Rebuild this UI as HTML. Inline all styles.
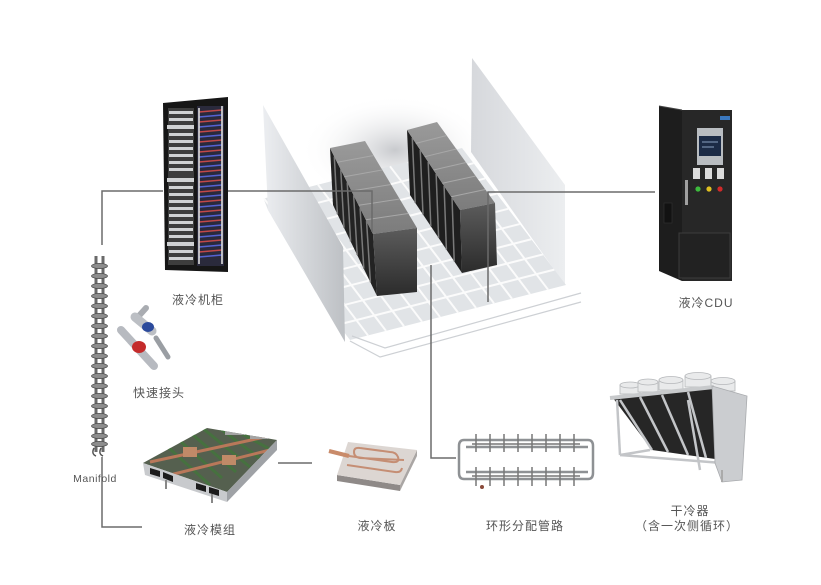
<!DOCTYPE html>
<html><head><meta charset="utf-8"><style>
html,body{margin:0;padding:0;background:#fff;}
body{width:821px;height:585px;overflow:hidden;}
svg{display:block;}
text{font-family:"Liberation Sans","Noto Sans CJK SC",sans-serif;fill:#555;}
</style></head><body>
<svg width="821" height="585" viewBox="0 0 821 585" xmlns="http://www.w3.org/2000/svg">
<defs>
<linearGradient id="lw" x1="0" y1="0" x2="1" y2="0"><stop offset="0" stop-color="#eceef1"/><stop offset="1" stop-color="#bdc0c4"/></linearGradient>
<linearGradient id="rw" x1="0" y1="0" x2="1" y2="0"><stop offset="0" stop-color="#d6d8dc"/><stop offset="1" stop-color="#eceef0"/></linearGradient>
<radialGradient id="sh" cx="0.5" cy="0.5" r="0.5"><stop offset="0" stop-color="#c2c4c8" stop-opacity="0.9"/><stop offset="1" stop-color="#ffffff" stop-opacity="0"/></radialGradient>
<linearGradient id="endf" x1="0" y1="0" x2="0" y2="1"><stop offset="0" stop-color="#5c5c5c"/><stop offset="1" stop-color="#2b2b2b"/></linearGradient>
<linearGradient id="topf" x1="0" y1="0" x2="0" y2="1"><stop offset="0" stop-color="#9a9a9a"/><stop offset="1" stop-color="#7c7c7c"/></linearGradient>
<clipPath id="modtop"><polygon points="143,463 207,428 277,440 227,492"/></clipPath>
</defs>

<ellipse cx="395" cy="150" rx="95" ry="55" fill="url(#sh)"/>

<polygon points="472,58 565,185 565,285 471,152" fill="url(#rw)"/>

<g transform="matrix(216,-55,104,137,246,203)">
<polygon points="0,0 1,0 1,1 0,1" fill="#e1e4e7"/>
<g stroke="#fbfbfb" stroke-width="2">
<line x1="0.0833" y1="0" x2="0.0833" y2="1" vector-effect="non-scaling-stroke"/>
<line x1="0.1667" y1="0" x2="0.1667" y2="1" vector-effect="non-scaling-stroke"/>
<line x1="0.25" y1="0" x2="0.25" y2="1" vector-effect="non-scaling-stroke"/>
<line x1="0.3333" y1="0" x2="0.3333" y2="1" vector-effect="non-scaling-stroke"/>
<line x1="0.4167" y1="0" x2="0.4167" y2="1" vector-effect="non-scaling-stroke"/>
<line x1="0.5" y1="0" x2="0.5" y2="1" vector-effect="non-scaling-stroke"/>
<line x1="0.5833" y1="0" x2="0.5833" y2="1" vector-effect="non-scaling-stroke"/>
<line x1="0.6667" y1="0" x2="0.6667" y2="1" vector-effect="non-scaling-stroke"/>
<line x1="0.75" y1="0" x2="0.75" y2="1" vector-effect="non-scaling-stroke"/>
<line x1="0.8333" y1="0" x2="0.8333" y2="1" vector-effect="non-scaling-stroke"/>
<line x1="0.9167" y1="0" x2="0.9167" y2="1" vector-effect="non-scaling-stroke"/>
<line x1="0" y1="0.111" x2="1" y2="0.111" vector-effect="non-scaling-stroke"/>
<line x1="0" y1="0.222" x2="1" y2="0.222" vector-effect="non-scaling-stroke"/>
<line x1="0" y1="0.333" x2="1" y2="0.333" vector-effect="non-scaling-stroke"/>
<line x1="0" y1="0.444" x2="1" y2="0.444" vector-effect="non-scaling-stroke"/>
<line x1="0" y1="0.555" x2="1" y2="0.555" vector-effect="non-scaling-stroke"/>
<line x1="0" y1="0.666" x2="1" y2="0.666" vector-effect="non-scaling-stroke"/>
<line x1="0" y1="0.777" x2="1" y2="0.777" vector-effect="non-scaling-stroke"/>
<line x1="0" y1="0.888" x2="1" y2="0.888" vector-effect="non-scaling-stroke"/>
</g>
</g>
<polygon points="225,100 268,210 350,350 225,350" fill="#fff"/>
<g stroke="#cdd0d4" stroke-width="1.2" fill="none">
<polyline points="350,341 380,357 581,302"/>
<polyline points="352,336 385,348 581,293"/>
</g>

<polygon points="263,105 343,247 345,342 268,210" fill="url(#lw)"/>

<polygon points="330,148 373,234 377,296 333,205" fill="#232323"/>
<g stroke="#7a7a7a" stroke-width="1.5">
<line x1="334.3" y1="156.6" x2="337.4" y2="214.1"/>
<line x1="340.75" y1="169.5" x2="344" y2="227.75"/>
<line x1="347.2" y1="182.4" x2="350.6" y2="241.4"/>
<line x1="353.65" y1="195.3" x2="357.2" y2="255"/>
<line x1="360.1" y1="208.2" x2="363.8" y2="268.7"/>
<line x1="366.55" y1="221.1" x2="370.4" y2="282.35"/>
</g>
<polygon points="330,148 365,141 417,228 373,234" fill="url(#topf)"/>
<g stroke="#a8a8a8" stroke-width="1">
<line x1="337.2" y1="162.3" x2="373.7" y2="155.5"/>
<line x1="344.3" y1="176.7" x2="382.3" y2="170"/>
<line x1="351.5" y1="191" x2="391" y2="184.5"/>
<line x1="358.7" y1="205.3" x2="399.7" y2="199"/>
<line x1="365.8" y1="219.7" x2="408.3" y2="213.5"/>
</g>
<polygon points="373,234 417,228 417,292 377,296" fill="url(#endf)"/>

<polygon points="407,130 460,210 462,273 410,195" fill="#1f1f1f"/>
<g stroke="#7a7a7a" stroke-width="1.5">
<line x1="412.3" y1="138" x2="415.2" y2="202.8"/>
<line x1="420.25" y1="150" x2="423" y2="214.5"/>
<line x1="428.2" y1="162" x2="430.8" y2="226.2"/>
<line x1="436.15" y1="174" x2="438.6" y2="237.9"/>
<line x1="444.1" y1="186" x2="446.4" y2="249.6"/>
<line x1="452.05" y1="198" x2="454.2" y2="261.3"/>
</g>
<polygon points="407,130 437,122 495,203 460,210" fill="url(#topf)"/>
<g stroke="#a8a8a8" stroke-width="1">
<line x1="415.8" y1="143.4" x2="446.7" y2="135.5"/>
<line x1="424.7" y1="156.7" x2="456.3" y2="149"/>
<line x1="433.5" y1="170" x2="466" y2="162.5"/>
<line x1="442.3" y1="183.3" x2="475.7" y2="176"/>
<line x1="451.2" y1="196.7" x2="485.3" y2="189.5"/>
</g>
<polygon points="460,210 495,203 497,265 462,273" fill="url(#endf)"/>

<polygon points="163,103 228,97 228,272 165,270" fill="#161616"/>
<rect x="168" y="108" width="26" height="157" fill="#3d3d3d"/>
<g fill="#cfd1d3">
<rect x="169" y="111" width="24" height="3"/><rect x="169" y="118" width="24" height="3"/><rect x="167" y="125" width="27" height="4"/>
<rect x="169" y="133" width="24" height="3"/><rect x="169" y="140" width="24" height="3"/><rect x="169" y="147" width="24" height="3"/>
<rect x="169" y="154" width="24" height="3"/><rect x="169" y="161" width="24" height="3"/><rect x="169" y="168" width="24" height="3"/>
<rect x="167" y="178" width="27" height="4"/><rect x="169" y="186" width="24" height="3"/><rect x="169" y="193" width="24" height="3"/>
<rect x="169" y="200" width="24" height="3"/><rect x="169" y="207" width="24" height="3"/><rect x="169" y="214" width="24" height="3"/>
<rect x="169" y="221" width="24" height="3"/><rect x="169" y="228" width="24" height="3"/><rect x="169" y="235" width="24" height="3"/>
<rect x="167" y="242" width="27" height="4"/><rect x="169" y="250" width="24" height="3"/><rect x="169" y="257" width="24" height="3"/>
</g>
<rect x="197" y="106" width="27" height="160" fill="#2a2a3c"/>
<g stroke-width="1.6">
<line x1="199" y1="112" x2="222" y2="110" stroke="#c24848"/><line x1="199" y1="117" x2="222" y2="115" stroke="#5563d2"/>
<line x1="199" y1="122" x2="222" y2="120" stroke="#c24848"/><line x1="199" y1="127" x2="222" y2="125" stroke="#5563d2"/>
<line x1="199" y1="132" x2="222" y2="130" stroke="#c24848"/><line x1="199" y1="137" x2="222" y2="135" stroke="#5563d2"/>
<line x1="199" y1="142" x2="222" y2="140" stroke="#c24848"/><line x1="199" y1="147" x2="222" y2="145" stroke="#5563d2"/>
<line x1="199" y1="152" x2="222" y2="150" stroke="#c24848"/><line x1="199" y1="157" x2="222" y2="155" stroke="#5563d2"/>
<line x1="199" y1="162" x2="222" y2="160" stroke="#c24848"/><line x1="199" y1="167" x2="222" y2="165" stroke="#5563d2"/>
<line x1="199" y1="172" x2="222" y2="170" stroke="#c24848"/><line x1="199" y1="177" x2="222" y2="175" stroke="#5563d2"/>
<line x1="199" y1="182" x2="222" y2="180" stroke="#c24848"/><line x1="199" y1="187" x2="222" y2="185" stroke="#5563d2"/>
<line x1="199" y1="192" x2="222" y2="190" stroke="#c24848"/><line x1="199" y1="197" x2="222" y2="195" stroke="#5563d2"/>
<line x1="199" y1="202" x2="222" y2="200" stroke="#c24848"/><line x1="199" y1="207" x2="222" y2="205" stroke="#5563d2"/>
<line x1="199" y1="212" x2="222" y2="210" stroke="#c24848"/><line x1="199" y1="217" x2="222" y2="215" stroke="#5563d2"/>
<line x1="199" y1="222" x2="222" y2="220" stroke="#c24848"/><line x1="199" y1="227" x2="222" y2="225" stroke="#5563d2"/>
<line x1="199" y1="232" x2="222" y2="230" stroke="#c24848"/><line x1="199" y1="237" x2="222" y2="235" stroke="#5563d2"/>
<line x1="199" y1="242" x2="222" y2="240" stroke="#c24848"/><line x1="199" y1="247" x2="222" y2="245" stroke="#5563d2"/>
<line x1="199" y1="252" x2="222" y2="250" stroke="#c24848"/><line x1="199" y1="257" x2="222" y2="255" stroke="#5563d2"/>
</g>
<line x1="199" y1="108" x2="199" y2="264" stroke="#e0e0e0" stroke-width="1.6"/>
<line x1="222" y1="106" x2="222" y2="264" stroke="#e0e0e0" stroke-width="1.6"/>

<line x1="96" y1="256" x2="96" y2="452" stroke="#6a6a6a" stroke-width="3"/>
<line x1="103" y1="256" x2="103" y2="452" stroke="#6a6a6a" stroke-width="3"/>
<g fill="#8d8d8d" stroke="#4a4a4a" stroke-width="0.7">
<ellipse cx="99.5" cy="266" rx="8" ry="2.6"/><ellipse cx="99.5" cy="276" rx="8" ry="2.6"/><ellipse cx="99.5" cy="286" rx="8" ry="2.6"/>
<ellipse cx="99.5" cy="296" rx="8" ry="2.6"/><ellipse cx="99.5" cy="306" rx="8" ry="2.6"/><ellipse cx="99.5" cy="316" rx="8" ry="2.6"/>
<ellipse cx="99.5" cy="326" rx="8" ry="2.6"/><ellipse cx="99.5" cy="336" rx="8" ry="2.6"/><ellipse cx="99.5" cy="346" rx="8" ry="2.6"/>
<ellipse cx="99.5" cy="356" rx="8" ry="2.6"/><ellipse cx="99.5" cy="366" rx="8" ry="2.6"/><ellipse cx="99.5" cy="376" rx="8" ry="2.6"/>
<ellipse cx="99.5" cy="386" rx="8" ry="2.6"/><ellipse cx="99.5" cy="396" rx="8" ry="2.6"/><ellipse cx="99.5" cy="406" rx="8" ry="2.6"/>
<ellipse cx="99.5" cy="416" rx="8" ry="2.6"/><ellipse cx="99.5" cy="426" rx="8" ry="2.6"/><ellipse cx="99.5" cy="436" rx="8" ry="2.6"/>
<ellipse cx="99.5" cy="444" rx="8" ry="2.6"/>
</g>
<path d="M94,448 q-3,6 2,8 M101,448 q-3,6 2,8" stroke="#555" stroke-width="1.5" fill="none"/>

<line x1="137" y1="318" x2="146" y2="308" stroke="#a9acb1" stroke-width="6" stroke-linecap="round"/>
<line x1="135" y1="317" x2="152" y2="331" stroke="#bcbfc4" stroke-width="9" stroke-linecap="round"/>
<ellipse cx="148" cy="327" rx="6" ry="5" fill="#2b4a9c"/>
<line x1="156" y1="338" x2="168" y2="357" stroke="#9a9ea3" stroke-width="5" stroke-linecap="round"/>
<line x1="121" y1="330" x2="154" y2="366" stroke="#b7bac0" stroke-width="8" stroke-linecap="round"/>
<ellipse cx="139" cy="347" rx="7" ry="6" fill="#c42b2b"/>

<polygon points="143,463 207,428 277,440 227,492" fill="#55604f"/>
<g clip-path="url(#modtop)">
<g stroke="#46713f" stroke-width="3">
<line x1="160" y1="440" x2="210" y2="485"/><line x1="172" y1="434" x2="222" y2="478"/><line x1="185" y1="428" x2="236" y2="472"/>
<line x1="200" y1="426" x2="250" y2="467"/><line x1="218" y1="427" x2="262" y2="460"/><line x1="235" y1="430" x2="275" y2="452"/>
</g>
<g stroke="#b9785a" stroke-width="3">
<line x1="150" y1="462" x2="265" y2="437"/><line x1="170" y1="475" x2="270" y2="450"/>
</g>
<rect x="225" y="425" width="20" height="10" fill="#a4a4a4"/><rect x="250" y="430" width="18" height="9" fill="#a4a4a4"/>
<rect x="183" y="447" width="14" height="10" fill="#c08a68"/><rect x="222" y="455" width="14" height="10" fill="#c08a68"/>
</g>
<polygon points="143,463 227,492 227,502 145,475" fill="#c8cacd"/>
<polygon points="227,492 277,440 277,450 227,502" fill="#9fa2a6"/>
<g fill="#1c1c1c">
<polygon points="150,468 160,471 160,477 150,474"/><polygon points="163,472 173,476 173,482 163,478"/>
<polygon points="196,483 206,486 206,492 196,489"/><polygon points="209,487 219,490 219,496 209,493"/>
</g>
<line x1="166" y1="480" x2="166" y2="489" stroke="#888" stroke-width="2"/>
<line x1="212" y1="494" x2="212" y2="503" stroke="#888" stroke-width="2"/>

<polygon points="337,475 400,485 400,491 337,481" fill="#8f8a88"/>
<polygon points="400,485 417,450 417,456 400,491" fill="#aaa6a4"/>
<polygon points="348,442 417,450 400,485 337,475" fill="#dcd6d2"/>
<line x1="329" y1="451" x2="349" y2="456" stroke="#c98b6a" stroke-width="4"/>
<path d="M349,456 L392,462 q8,1 6,-5 q-2,-5 -8,-5 L360,448 q-6,-1 -6,4 q0,5 6,6 L404,460 M347,465 L395,472 q6,1 7,-4" stroke="#c58e74" stroke-width="2" fill="none"/>

<g stroke="#8e9194" stroke-width="2.5" fill="none">
<path d="M588,440 L464,440 Q459,440 459,446 L459,473 Q459,479 464,479 L588,479"/>
<path d="M588,447 L466,447 M466,472 L588,472"/>
<path d="M588,440 Q593,440 593,446 L593,473 Q593,479 588,479"/>
</g>
<g stroke="#777" stroke-width="1.5">
<line x1="476" y1="434" x2="476" y2="452"/><line x1="490" y1="434" x2="490" y2="452"/><line x1="504" y1="434" x2="504" y2="452"/>
<line x1="518" y1="434" x2="518" y2="452"/><line x1="532" y1="434" x2="532" y2="452"/><line x1="546" y1="434" x2="546" y2="452"/>
<line x1="560" y1="434" x2="560" y2="452"/><line x1="574" y1="434" x2="574" y2="452"/>
<line x1="476" y1="467" x2="476" y2="486"/><line x1="490" y1="467" x2="490" y2="486"/><line x1="504" y1="467" x2="504" y2="486"/>
<line x1="518" y1="467" x2="518" y2="486"/><line x1="532" y1="467" x2="532" y2="486"/><line x1="546" y1="467" x2="546" y2="486"/>
<line x1="560" y1="467" x2="560" y2="486"/><line x1="574" y1="467" x2="574" y2="486"/>
<line x1="472" y1="444" x2="580" y2="444"/><line x1="472" y1="476" x2="580" y2="476"/>
</g>
<circle cx="482" cy="487" r="2" fill="#8a4a3a"/>

<g fill="#e9eaeb" stroke="#b5b7ba" stroke-width="0.8">
<rect x="620" y="385" width="20" height="9"/><ellipse cx="630" cy="385" rx="10" ry="3"/>
<rect x="638" y="382" width="20" height="10"/><ellipse cx="648" cy="382" rx="10" ry="3"/>
<rect x="659" y="380" width="24" height="10"/><ellipse cx="671" cy="380" rx="12" ry="3.5"/>
<rect x="685" y="376" width="26" height="11"/><ellipse cx="698" cy="376" rx="13" ry="3.5"/>
<rect x="711" y="381" width="24" height="10"/><ellipse cx="723" cy="381" rx="12" ry="3.5"/>
</g>
<polygon points="613,398 712,388 722,460 652,450" fill="#262626"/>
<line x1="610" y1="398" x2="714" y2="387" stroke="#c8cacc" stroke-width="4"/>
<g stroke="#c3c5c8" stroke-width="2.5">
<line x1="620" y1="400" x2="652" y2="450"/><line x1="640" y1="397" x2="668" y2="452"/>
<line x1="662" y1="395" x2="688" y2="455"/><line x1="688" y1="392" x2="706" y2="458"/>
<line x1="617" y1="400" x2="620" y2="455"/><line x1="650" y1="450" x2="620" y2="455"/>
<line x1="620" y1="455" x2="722" y2="463"/><line x1="688" y1="400" x2="700" y2="470"/>
</g>
<polygon points="712,386 747,396 742,480 722,482 715,463" fill="#cbcdd0" stroke="#a9abae" stroke-width="0.8"/>
<line x1="722" y1="482" x2="722" y2="470" stroke="#aaa" stroke-width="2"/>

<polygon points="659,106 682,110 682,281 659,271" fill="#1d1d1d"/>
<rect x="682" y="110" width="50" height="171" fill="#272727"/>
<line x1="659" y1="106" x2="682" y2="110" stroke="#444" stroke-width="1"/>
<rect x="679" y="233" width="51" height="45" fill="#222" stroke="#3c3c3c" stroke-width="1"/>
<rect x="697" y="128" width="26" height="37" fill="#b9bdc1"/>
<rect x="699" y="136" width="22" height="20" fill="#1c2b46"/>
<line x1="702" y1="142" x2="718" y2="142" stroke="#8aa0c0" stroke-width="1"/>
<line x1="702" y1="147" x2="714" y2="147" stroke="#8aa0c0" stroke-width="1"/>
<rect x="693" y="168" width="7" height="11" fill="#dcdcdc"/>
<rect x="705" y="168" width="7" height="11" fill="#dcdcdc"/>
<rect x="717" y="168" width="7" height="11" fill="#dcdcdc"/>
<circle cx="698" cy="189" r="2.6" fill="#3dbb3d"/>
<circle cx="709" cy="189" r="2.6" fill="#e0c020"/>
<circle cx="720" cy="189" r="2.6" fill="#d02a2a"/>
<rect x="685" y="180" width="3" height="25" fill="#a0a0a0"/>
<rect x="664" y="203" width="8" height="20" fill="#121212" stroke="#333" stroke-width="0.6"/>
<rect x="720" y="116" width="10" height="4" fill="#3a78c0"/>

<g stroke="#6b6b6b" stroke-width="1.5" fill="none">
<polyline points="102,245 102,191 163,191"/>
<polyline points="228,191 372,191 372,232"/>
<polyline points="655,192 488,192 488,302"/>
<polyline points="431,265 431,458 456,458"/>
<polyline points="102,457 102,527 142,527"/>
<line x1="278" y1="463" x2="312" y2="463"/>
</g>

<g font-size="12" text-anchor="middle" letter-spacing="1">
<text x="198" y="304">液冷机柜</text>
<text x="159" y="397">快速接头</text>
<text x="210" y="534">液冷模组</text>
<text x="377" y="530">液冷板</text>
<text x="525" y="530">环形分配管路</text>
<text x="690" y="515">干冷器</text>
<text x="687" y="530">（含一次侧循环）</text>
<text x="706" y="307">液冷CDU</text>
</g>
<text x="95" y="482" font-size="10.5" text-anchor="middle" letter-spacing="0.5">Manifold</text>
</svg>
</body></html>
